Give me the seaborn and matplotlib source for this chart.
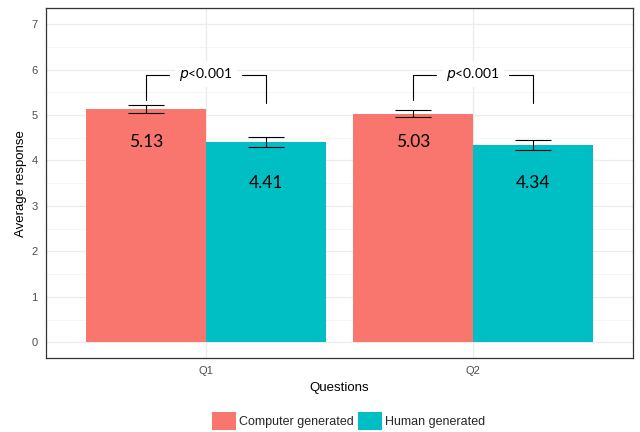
import matplotlib
matplotlib.use("Agg")
import matplotlib.pyplot as plt
import seaborn as sns
import pandas as pd
from matplotlib.ticker import MultipleLocator
from matplotlib.patches import Patch

questions = ["Q1", "Q2"]
groups = ["Computer generated", "Human generated"]
computer_means = [5.13, 5.03]
human_means = [4.41, 4.34]
computer_err = [0.09, 0.08]
human_err = [0.115, 0.11]
value_labels_computer = ["5.13", "5.03"]
value_labels_human = ["4.41", "4.34"]
p_labels = ["p<0.001", "p<0.001"]
palette = {"Computer generated": "#F8766D", "Human generated": "#00BFC4"}

df = pd.DataFrame({
    "Questions": questions * 2,
    "group": [groups[0]] * 2 + [groups[1]] * 2,
    "mean": computer_means + human_means,
    "err": computer_err + human_err,
    "label": value_labels_computer + value_labels_human,
})

sns.set_style("white")
plt.rcParams["font.family"] = ["Liberation Sans", "DejaVu Sans"]

fig = plt.figure(figsize=(6.4, 4.32), dpi=100)
ax = fig.add_axes([0.072, 0.171, 0.917, 0.810])

sns.barplot(data=df, x="Questions", y="mean", hue="group", order=questions,
            hue_order=groups, palette=palette, width=0.9, gap=0,
            errorbar=None, saturation=1, legend=False, ax=ax, zorder=2,
            linewidth=0)

ax.set_xlim(-0.6, 1.6)
ax.set_ylim(-0.35, 7.35)
ax.yaxis.set_major_locator(MultipleLocator(1))
ax.yaxis.set_minor_locator(MultipleLocator(0.5))
ax.grid(True, which="major", color="#EBEBEB", linewidth=0.9, zorder=0)
ax.grid(True, which="minor", axis="y", color="#F2F2F2", linewidth=0.6, zorder=0)
ax.set_axisbelow(True)
for s in ax.spines.values():
    s.set_color("#333333")
    s.set_linewidth(0.9)

ax.tick_params(axis="both", which="major", length=3, width=0.8, color="#333333",
               labelsize=8, labelcolor="#4D4D4D", pad=3)
ax.tick_params(axis="both", which="minor", length=0)
ax.set_xlabel("Questions", fontsize=9.5, color="black", labelpad=4)
ax.set_ylabel("Average response", fontsize=9.5, color="black", labelpad=3)

# Error bars and value labels positioned from drawn bars
bars = [p for p in ax.patches]
label_y = {groups[0]: 4.4, groups[1]: 3.5}
rows = []
for gi, g in enumerate(groups):
    for qi, q in enumerate(questions):
        rows.append((g, q))
centers = {}
for (g, q), patch in zip(rows, bars):
    cx = patch.get_x() + patch.get_width() / 2
    centers[(g, q)] = cx
    r = df[(df.group == g) & (df.Questions == q)].iloc[0]
    ax.errorbar(cx, r["mean"], yerr=r["err"], fmt="none", ecolor="black",
                elinewidth=0.8, capsize=13, capthick=0.8, zorder=3)
    ax.text(cx, label_y[g], r["label"], ha="center", va="center", fontsize=12.5,
            family=["Lato", "DejaVu Sans"], color="black", zorder=4)

# significance brackets
for qi, q in enumerate(questions):
    xl = centers[(groups[0], q)]
    xr = centers[(groups[1], q)]
    ytop = 5.89
    ax.plot([xl, xl, qi - 0.14], [5.33, ytop, ytop], color="black", lw=0.8, zorder=4)
    ax.plot([qi + 0.135, xr, xr], [ytop, ytop, 5.26], color="black", lw=0.8, zorder=4)
    ax.text(qi, ytop, r"$p$<0.001", ha="center", va="center", fontsize=10,
            family=["Lato", "DejaVu Sans"], color="black", zorder=5,
            bbox=dict(facecolor="white", edgecolor="none", pad=3))

handles = [Patch(facecolor=palette[g], edgecolor="none", label=g) for g in groups]
fig.legend(handles=handles, loc="center", bbox_to_anchor=(0.545, 0.025), ncol=2,
           frameon=False, fontsize=9, handlelength=1.9, handleheight=1.9,
           handletextpad=0.3, columnspacing=0.3)

fig.savefig("out.png", dpi=100)
